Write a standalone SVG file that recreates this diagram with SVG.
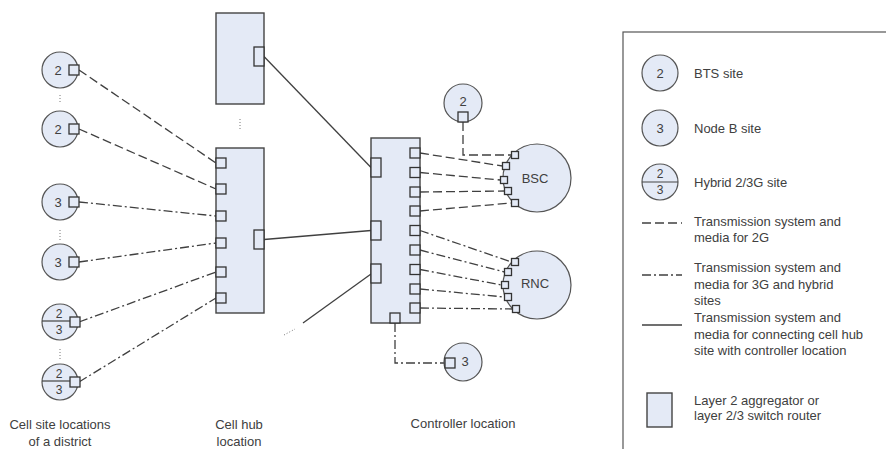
<svg xmlns="http://www.w3.org/2000/svg" width="886" height="449" viewBox="0 0 886 449">
  <style>
    .site { fill: #e4eaf6; stroke: #555; stroke-width: 1.2; }
    .box { fill: #e4eaf6; stroke: #444; stroke-width: 1.4; }
    .port { fill: #e4eaf6; stroke: #333; stroke-width: 1.3; }
    .sep { stroke: #444; stroke-width: 1.2; }
    .num { font-family: "Liberation Sans", Arial, sans-serif; font-size: 13px; fill: #404040; text-anchor: middle; dominant-baseline: central; }
    .frac { font-family: "Liberation Sans", Arial, sans-serif; font-size: 12px; fill: #404040; text-anchor: middle; dominant-baseline: central; }
    .lbl { font-family: "Liberation Sans", Arial, sans-serif; font-size: 13px; fill: #404040; }
    .ctr { text-anchor: middle; }
    .g2 { fill: none; stroke: #404040; stroke-width: 1.3; stroke-dasharray: 9 4; }
    .g3 { fill: none; stroke: #404040; stroke-width: 1.3; stroke-dasharray: 9 3 2 3; }
    .solid { fill: none; stroke: #404040; stroke-width: 1.3; }
    .dots { fill: none; stroke: #777; stroke-width: 1; stroke-dasharray: 1 2; }
  </style>

  <!-- connectors -->
  <g id="connectors">
    <!-- 2G: BTS sites to cell hub -->
    <line class="g2" x1="79" y1="70" x2="216" y2="163"/>
    <line class="g2" x1="79" y1="129" x2="216" y2="189"/>
    <!-- 3G / hybrid sites to cell hub -->
    <line class="g3" x1="79" y1="202" x2="216" y2="216"/>
    <line class="g3" x1="79" y1="262" x2="216" y2="243"/>
    <line class="g3" x1="79" y1="322" x2="216" y2="272"/>
    <line class="g3" x1="79" y1="382" x2="216" y2="298"/>
    <!-- cell hubs to controller location -->
    <line class="solid" x1="264" y1="56.5" x2="371" y2="167.5"/>
    <line class="solid" x1="264" y1="239.5" x2="371" y2="230.5"/>
    <line class="solid" x1="303" y1="323" x2="371" y2="274"/>
    <line class="dots" x1="284" y1="335" x2="295" y2="329"/>
    <!-- controller switch to BSC -->
    <polyline class="g2" points="463,122 463,155 511.5,155"/>
    <line class="g2" x1="420" y1="153" x2="502.5" y2="166"/>
    <line class="g2" x1="420" y1="172.5" x2="500.5" y2="180"/>
    <line class="g2" x1="420" y1="192" x2="504.5" y2="191"/>
    <line class="g2" x1="420" y1="211" x2="511.5" y2="203"/>
    <!-- controller switch to RNC -->
    <line class="g3" x1="420" y1="230.5" x2="511.5" y2="262"/>
    <line class="g3" x1="420" y1="250" x2="504.5" y2="272"/>
    <line class="g3" x1="420" y1="269.5" x2="501.5" y2="285"/>
    <line class="g3" x1="420" y1="289" x2="504.5" y2="297"/>
    <line class="g3" x1="420" y1="308" x2="512.5" y2="309"/>
    <polyline class="g3" points="395,323 395,363 445,363"/>
  </g>

  <!-- cell site locations -->
  <g id="site-bts-1">
    <circle class="site" cx="60" cy="70" r="18"/>
    <text class="num" x="58" y="70">2</text>
    <rect class="port" x="69" y="65" width="10" height="10"/>
  </g>
  <line class="dots" x1="60" y1="95" x2="60" y2="104"/>
  <g id="site-bts-2">
    <circle class="site" cx="60" cy="129" r="18"/>
    <text class="num" x="58" y="129">2</text>
    <rect class="port" x="69" y="124" width="10" height="10"/>
  </g>
  <g id="site-nodeb-1">
    <circle class="site" cx="60" cy="202" r="18"/>
    <text class="num" x="58" y="202">3</text>
    <rect class="port" x="69" y="197" width="10" height="10"/>
  </g>
  <line class="dots" x1="60" y1="230" x2="60" y2="240"/>
  <g id="site-nodeb-2">
    <circle class="site" cx="60" cy="262" r="18"/>
    <text class="num" x="58" y="262">3</text>
    <rect class="port" x="69" y="257" width="10" height="10"/>
  </g>
  <g id="site-hybrid-1">
    <circle class="site" cx="60" cy="322" r="18"/>
    <line class="sep" x1="42" y1="321" x2="70" y2="321"/>
    <text class="frac" x="59" y="313.5">2</text>
    <text class="frac" x="59" y="330">3</text>
    <rect class="port" x="70" y="317" width="10" height="10"/>
  </g>
  <line class="dots" x1="60" y1="349" x2="60" y2="359"/>
  <g id="site-hybrid-2">
    <circle class="site" cx="60" cy="382" r="18"/>
    <line class="sep" x1="42" y1="381" x2="70" y2="381"/>
    <text class="frac" x="59" y="373.5">2</text>
    <text class="frac" x="59" y="390">3</text>
    <rect class="port" x="70" y="377" width="10" height="10"/>
  </g>

  <!-- cell hub location -->
  <g id="hub-upper">
    <rect class="box" x="216" y="13" width="48" height="91"/>
    <rect class="port" x="254" y="47" width="10" height="19"/>
  </g>
  <line class="dots" x1="240" y1="119" x2="240" y2="129"/>
  <g id="hub-lower">
    <rect class="box" x="216" y="148" width="48" height="165"/>
    <rect class="port" x="216" y="158" width="10" height="10"/>
    <rect class="port" x="216" y="184" width="10" height="10"/>
    <rect class="port" x="216" y="211" width="10" height="10"/>
    <rect class="port" x="216" y="238" width="10" height="10"/>
    <rect class="port" x="216" y="267" width="10" height="10"/>
    <rect class="port" x="216" y="293" width="10" height="10"/>
    <rect class="port" x="254" y="230" width="10" height="19"/>
  </g>

  <!-- controller location -->
  <g id="controller-switch">
    <rect class="box" x="371" y="138" width="49" height="185"/>
    <rect class="port" x="371" y="158" width="10" height="19"/>
    <rect class="port" x="371" y="221" width="10" height="19"/>
    <rect class="port" x="371" y="264" width="10" height="19"/>
    <rect class="port" x="410" y="148" width="10" height="10"/>
    <rect class="port" x="410" y="167.5" width="10" height="10"/>
    <rect class="port" x="410" y="187" width="10" height="10"/>
    <rect class="port" x="410" y="206" width="10" height="10"/>
    <rect class="port" x="410" y="225.5" width="10" height="10"/>
    <rect class="port" x="410" y="245" width="10" height="10"/>
    <rect class="port" x="410" y="264.5" width="10" height="10"/>
    <rect class="port" x="410" y="284" width="10" height="10"/>
    <rect class="port" x="410" y="303" width="10" height="10"/>
    <rect class="port" x="390" y="313" width="10" height="10"/>
  </g>
  <g id="bts-controller">
    <circle class="site" cx="463" cy="103" r="19"/>
    <text class="num" x="463" y="101">2</text>
    <rect class="port" x="458" y="112" width="10" height="10"/>
  </g>
  <g id="bsc">
    <circle class="site" cx="537" cy="178" r="34"/>
    <text class="num" x="535" y="178">BSC</text>
    <rect class="port" x="511.5" y="151.5" width="7" height="7"/>
    <rect class="port" x="502.5" y="162.5" width="7" height="7"/>
    <rect class="port" x="500.5" y="176.5" width="7" height="7"/>
    <rect class="port" x="504.5" y="187.5" width="7" height="7"/>
    <rect class="port" x="511.5" y="199.5" width="7" height="7"/>
  </g>
  <g id="rnc">
    <circle class="site" cx="537" cy="285" r="34"/>
    <text class="num" x="535" y="283">RNC</text>
    <rect class="port" x="511.5" y="258.5" width="7" height="7"/>
    <rect class="port" x="504.5" y="268.5" width="7" height="7"/>
    <rect class="port" x="501.5" y="281.5" width="7" height="7"/>
    <rect class="port" x="504.5" y="293.5" width="7" height="7"/>
    <rect class="port" x="512.5" y="305.5" width="7" height="7"/>
  </g>
  <g id="nodeb-controller">
    <circle class="site" cx="463" cy="362" r="19"/>
    <text class="num" x="465" y="361">3</text>
    <rect class="port" x="445" y="358" width="10" height="10"/>
  </g>

  <!-- location captions -->
  <text class="lbl ctr" x="60" y="429">Cell site locations</text>
  <text class="lbl ctr" x="60" y="446">of a district</text>
  <text class="lbl ctr" x="239" y="429">Cell hub</text>
  <text class="lbl ctr" x="239" y="446">location</text>
  <text class="lbl ctr" x="463" y="428">Controller location</text>

  <!-- legend -->
  <g id="legend">
    <rect x="623" y="32" width="300" height="450" fill="#fff" stroke="#555" stroke-width="1.2"/>
    <circle class="site" cx="660" cy="73" r="18"/>
    <text class="num" x="660" y="73">2</text>
    <text class="lbl" x="694" y="78">BTS site</text>
    <circle class="site" cx="660" cy="128" r="18"/>
    <text class="num" x="660" y="128">3</text>
    <text class="lbl" x="694" y="133">Node B site</text>
    <circle class="site" cx="660" cy="182" r="18"/>
    <line class="sep" x1="642" y1="182" x2="678" y2="182"/>
    <text class="frac" x="660" y="174">2</text>
    <text class="frac" x="660" y="190">3</text>
    <text class="lbl" x="694" y="187">Hybrid 2/3G site</text>
    <line class="g2" x1="642" y1="223" x2="682" y2="223" stroke-dasharray="10 5"/>
    <text class="lbl" x="694" y="226">Transmission system and</text>
    <text class="lbl" x="694" y="242">media for 2G</text>
    <line class="g3" x1="642" y1="275" x2="682" y2="275" stroke-dasharray="10 4 2 4"/>
    <text class="lbl" x="694" y="272">Transmission system and</text>
    <text class="lbl" x="694" y="289">media for 3G and hybrid</text>
    <text class="lbl" x="694" y="305">sites</text>
    <line class="solid" x1="642" y1="325" x2="682" y2="325"/>
    <text class="lbl" x="694" y="322">Transmission system and</text>
    <text class="lbl" x="694" y="339">media for connecting cell hub</text>
    <text class="lbl" x="694" y="355">site with controller location</text>
    <rect class="box" x="647" y="393" width="25" height="34"/>
    <text class="lbl" x="694" y="405">Layer 2 aggregator or</text>
    <text class="lbl" x="694" y="420">layer 2/3 switch router</text>
  </g>
</svg>
